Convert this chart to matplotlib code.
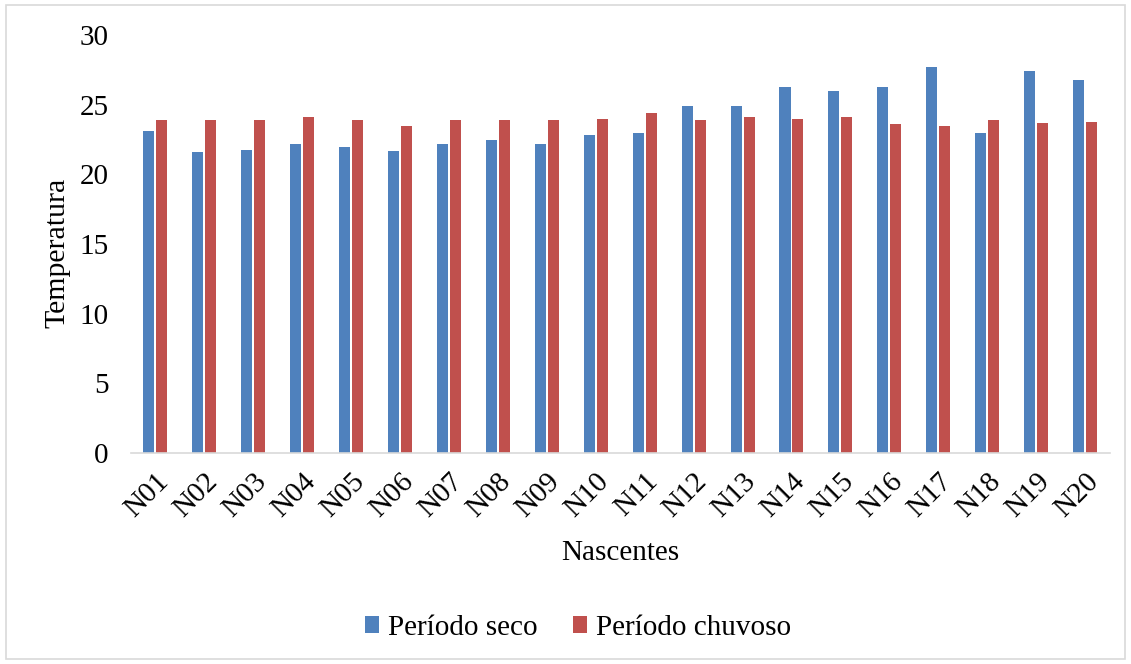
import numpy as np
import matplotlib.pyplot as plt
from matplotlib.patches import Rectangle

plt.rcParams['font.family'] = ['Liberation Serif', 'DejaVu Serif']

nascentes = ['N%02d' % i for i in range(1, 21)]
periodo_seco = [23.1, 21.6, 21.75, 22.2, 22.0, 21.65, 22.2, 22.5, 22.2, 22.8,
                23.0, 24.9, 24.9, 26.3, 26.0, 26.3, 27.7, 22.95, 27.4, 26.8]
periodo_chuvoso = [23.9, 23.9, 23.9, 24.1, 23.9, 23.5, 23.9, 23.9, 23.9, 24.0,
                   24.4, 23.9, 24.1, 24.0, 24.1, 23.6, 23.5, 23.9, 23.7, 23.8]

fig = plt.figure(figsize=(11.31, 6.64), dpi=100)
ax = fig.add_axes([0.1158, 0.3178, 0.8652, 0.6292])

x = np.arange(len(nascentes))
w = 0.225
ax.bar(x - w / 2 - 0.02, periodo_seco, w, color='#4F81BD', label='Período seco')
ax.bar(x + w / 2 + 0.02, periodo_chuvoso, w, color='#C0504D', label='Período chuvoso')

ax.set_xlim(-0.5, len(nascentes) - 0.5)
ax.set_ylim(0, 30)
ax.set_yticks(range(0, 31, 5))
ax.set_xticks(x)
ax.set_xticklabels(nascentes, rotation=45, ha='right', rotation_mode='anchor')
ax.tick_params(axis='both', length=0, labelsize=21)
ax.tick_params(axis='y', pad=16)
ax.tick_params(axis='x', pad=11)

for s in ['top', 'right', 'left']:
    ax.spines[s].set_visible(False)
ax.spines['bottom'].set_color('#d9d9d9')
ax.spines['bottom'].set_linewidth(1.2)

ax.set_ylabel('Temperatura', fontsize=21.5)
ax.yaxis.set_label_coords(-0.062, 0.48)
ax.set_xlabel('Nascentes', fontsize=21, va='center')
ax.xaxis.set_label_coords(0.5, -0.239)

fig.legend(loc='center', bbox_to_anchor=(0.511, 0.054), ncol=2, frameon=False,
           fontsize=21, handlelength=0.5, handleheight=0.5, handletextpad=0.3,
           columnspacing=1.2)

# light frame around the whole chart
fig.patches.append(Rectangle((0.005, 0.008), 0.99, 0.984, transform=fig.transFigure,
                             fill=False, edgecolor='#d9d9d9', linewidth=1.2))

fig.savefig('out.png', dpi=100)
